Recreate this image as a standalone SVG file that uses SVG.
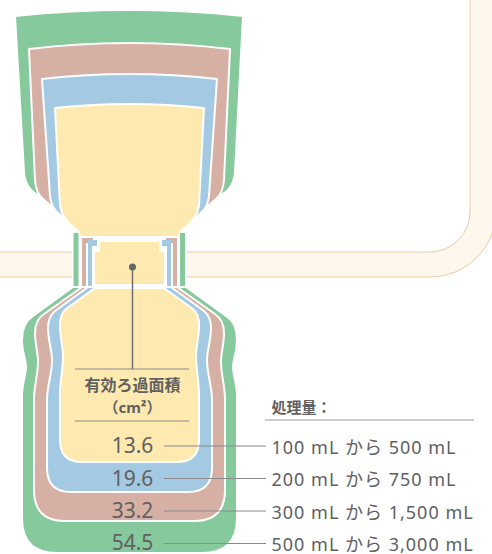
<svg xmlns="http://www.w3.org/2000/svg" width="492" height="554" viewBox="0 0 492 554">
  <style>
    .layer { stroke: #ffffff; stroke-width: 2; stroke-linejoin: round; }
    .green { fill: #85c99d; }
    .brown { fill: #d6b0a4; }
    .blue { fill: #a3cae2; }
    .yellow { fill: #feeab0; }
    .lbl { font-family: "Noto Sans", "Noto Sans CJK JP", sans-serif; fill: #606060; }
    .rule { stroke: #8a8a8a; stroke-width: 1; fill: none; }
  </style>
  <rect width="492" height="554" fill="#ffffff"/>

  <!-- background frame -->
  <g id="frame">
    <path d="M -20,252 H 430 A 40 40 0 0 0 470 212 V -20 H 496 V 211 A 66 66 0 0 1 430 277 H -20 Z" fill="#fdf7ee" stroke="#ebcaa3" stroke-width="1"/>
  </g>

  <!-- upper chamber -->
  <g id="upper">
    <path class="layer green" d="M15,16 Q129.5,4 243,16 L235,172 Q234,188 221,195 L207,204 L52,204 L38,195 Q25,188 24,172 Z"/>
    <path class="layer brown" d="M29,49 Q129.5,37 230,49 L224,180 Q223,193 216,199 L203,210 L56,210 L43,199 Q36,193 35,180 Z"/>
    <path class="layer blue" d="M42,79 Q129.5,69 217,79 L209,196 Q208,205 203,211 L193,220 L66,220 L56,211 Q51,205 50,196 Z"/>
    <path class="layer yellow" d="M55,108 Q129.5,100 204,108 L199,205 Q197,220 181,231 L179,237 L80,237 L78,231 Q62,220 60,205 Z"/>
  </g>

  <!-- neck -->
  <g id="neck">
    <rect x="72" y="238" width="115" height="48" fill="#ffffff"/>
    <rect class="green" x="73.5" y="233" width="5" height="54"/>
    <rect class="green" x="180" y="233" width="5" height="54"/>
    <path class="brown" d="M82,287 V238 H93 V243 H86 V287 Z"/>
    <path class="brown" d="M177,287 V238 H166 V243 H173 V287 Z"/>
    <path class="blue" d="M88,287 V240 H97 V246 H92 V287 Z"/>
    <path class="blue" d="M171,287 V240 H162 V246 H167 V287 Z"/>
    <path class="yellow" d="M100,242 H159 V252 H164 V284 H95 V252 H100 Z"/>
  </g>

  <!-- lower chamber -->
  <g id="lower">
    <path class="layer green" d="M73,287 L186,287 L226,316 Q237,323 237,340 C237,352 233,360 233,367 C233,376 237,382 237,395 L237,518 Q237,553 202,553 L57,553 Q22,553 22,518 L22,395 C22,382 26,376 26,367 C26,360 22,352 22,340 Q22,323 33,316 Z"/>
    <path class="layer brown" d="M82,287 L177,287 L215,314 Q224,320 224,333 C224,345 221,352 221,362 C221,375 225,385 225,400 L225,490 Q225,521 194,521 L65,521 Q34,521 34,490 L34,400 C34,385 38,375 38,362 C38,352 35,345 35,333 Q35,320 44,314 Z"/>
    <path class="layer blue" d="M88,287 L171,287 L204,311 Q211,317 211,328 C211,340 207,350 207,360 C207,375 212,385 212,400 L212,468 Q212,492 188,492 L71,492 Q47,492 47,468 L47,400 C47,385 52,375 52,360 C52,350 48,340 48,328 Q48,317 55,311 Z"/>
    <path class="layer yellow" d="M95,288 L164,288 L193,309 Q199,314 199,325 C199,338 196,346 196,356 C196,370 199,380 199,395 L199,440 Q199,462 177,462 L82,462 Q60,462 60,440 L60,395 C60,380 63,370 63,356 C63,346 60,338 60,325 Q60,314 66,309 Z"/>
  </g>

  <!-- axis label -->
  <g id="area-label">
    <line class="rule" x1="75" y1="369" x2="189" y2="369"/>
    <line class="rule" x1="75" y1="421" x2="189" y2="421"/>
    <text class="lbl" x="132.5" y="391" font-size="16" font-weight="bold" text-anchor="middle">有効ろ過面積</text>
    <text class="lbl" x="132.5" y="413" font-size="15" font-weight="bold" text-anchor="middle">（cm²）</text>
  </g>

  <g id="values" class="lbl" font-size="21" text-anchor="middle">
    <text x="132.5" y="453">13.6</text>
    <text x="132.5" y="485.5">19.6</text>
    <text x="132.5" y="518">33.2</text>
    <text x="132.5" y="550">54.5</text>
  </g>

  <g id="legend" class="lbl" font-size="18">
    <text x="271.5" y="412.5" font-size="15" font-weight="bold">処理量：</text>
    <line x1="265" y1="420" x2="474" y2="420" stroke="#9a9a9a" stroke-width="1"/>
    <g letter-spacing="1">
      <text x="271.5" y="453.5">100 mL から 500 mL</text>
      <text x="271.5" y="486">200 mL から 750 mL</text>
      <text x="271.5" y="518.5">300 mL から 1,500 mL</text>
      <text x="271.5" y="550.5">500 mL から 3,000 mL</text>
    </g>
  </g>

  <!-- connectors -->
  <g id="connectors">
    <line x1="132.5" y1="267" x2="132.5" y2="369" stroke="#707070" stroke-width="1.5"/>
    <circle cx="132.5" cy="267" r="3.5" fill="#666666"/>
    <line class="rule" x1="164" y1="446" x2="266" y2="446"/>
    <line class="rule" x1="164" y1="478.5" x2="266" y2="478.5"/>
    <line class="rule" x1="164" y1="511" x2="266" y2="511"/>
    <line class="rule" x1="164" y1="543.5" x2="266" y2="543.5"/>
  </g>
</svg>
